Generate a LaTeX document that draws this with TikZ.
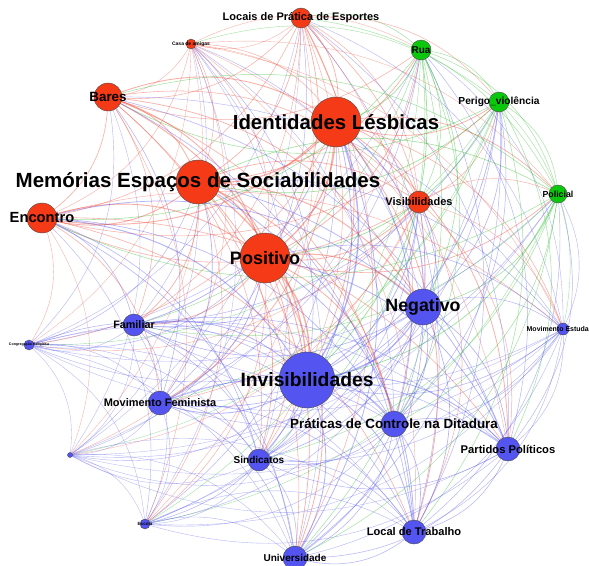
\documentclass[tikz,border=0pt]{standalone}
\usepackage{fontspec}
\setmainfont{Liberation Sans}
\definecolor{nred}{RGB}{244,58,22}
\definecolor{ngreen}{RGB}{12,200,12}
\definecolor{nblue}{RGB}{84,84,240}
\definecolor{ered}{RGB}{240,80,60}
\definecolor{egreen}{RGB}{40,190,40}
\definecolor{eblue}{RGB}{90,90,240}
\begin{document}
\begin{tikzpicture}[x=1pt,y=-1pt,
  vert/.style={circle,draw=black!70,line width=0.4pt,inner sep=0pt},
  lab/.style={text=black,inner sep=0pt},
  edge/.style={draw opacity=0.45}]
\fill[white] (0,0) rectangle (589,565);
\useasboundingbox (0,0) rectangle (589,565);
\foreach \i/\x/\y/\r/\c in {
 1/301/18/10/red, 2/191/44/5/red, 3/421/50/10/green, 4/499/102/10/green,
 5/108/97/14/red, 6/336/122/25/red, 7/198/182/22/red, 8/419/202/11/red,
 9/558/194/9/green, 10/42/218/15/red, 11/265/258/25/red, 12/423/307/18/blue,
 13/563/329/6/blue, 14/134/325/11/blue, 15/29/345/5/blue, 16/307/380/28/blue,
 17/160/403/12/blue, 18/394/424/13/blue, 19/508/449/12/blue, 20/259/460/11/blue,
 21/70/455/2.5/blue, 22/145/524/5/blue, 23/414/532/12/blue, 24/295/558/12/blue}{
 \coordinate (c\i) at (\x,\y);
 \expandafter\xdef\csname ncol\i\endcsname{\c}
 \expandafter\xdef\csname nsz\i\endcsname{\r}
}
% edges
\foreach \i in {1,...,24}{
 \foreach \j in {1,...,24}{
  \ifnum\i<\j
   \ifodd\numexpr\i+\j\relax
     \edef\ec{e\csname ncol\i\endcsname}
   \else
     \edef\ec{e\csname ncol\j\endcsname}
   \fi
   \pgfmathsetmacro\lw{0.3+0.0016*\csname nsz\i\endcsname*\csname nsz\j\endcsname}
   \draw[edge,draw=\ec,line width=\lw pt] (c\i) to[bend left=28] (c\j);
  \fi
 }
}
% nodes
\foreach \i in {1,...,24}{
 \edef\nc{n\csname ncol\i\endcsname}
 \pgfmathsetmacro\d{2*\csname nsz\i\endcsname}
 \node[vert,fill=\nc,minimum size=\d pt] (n\i) at (c\i) {};
}
\foreach \i/\t/\fs in {
 1/{Locais de Prática de Esportes}/11, 2/{Casa de amigas}/5, 3/{Rua}/10,
 4/{Perigo\_violência}/10.2, 5/{Bares}/13.4, 6/{Identidades Lésbicas}/20.4,
 7/{Memórias Espaços de Sociabilidades}/20.5, 8/{Visibilidades}/11, 9/{Policial}/8.8,
 10/{Encontro}/14.7, 11/{Positivo}/18, 12/{Negativo}/17.8, 13/{Movimento Estudantil}/7,
 14/{Familiar}/10.8, 15/{Congregação Religiosa}/3.6, 16/{Invisibilidades}/19.3,
 17/{Movimento Feminista}/11, 18/{Práticas de Controle na Ditadura}/13.4,
 19/{Partidos Políticos}/11.2, 20/{Sindicatos}/10, 22/{Escola}/4.5,
 23/{Local de Trabalho}/11.1, 24/{Universidade}/10}{
 \node[lab,font=\bfseries\fontsize{\fs}{\fs}\selectfont] (l\i) at (c\i) {\t};
}
\end{tikzpicture}
\end{document}
